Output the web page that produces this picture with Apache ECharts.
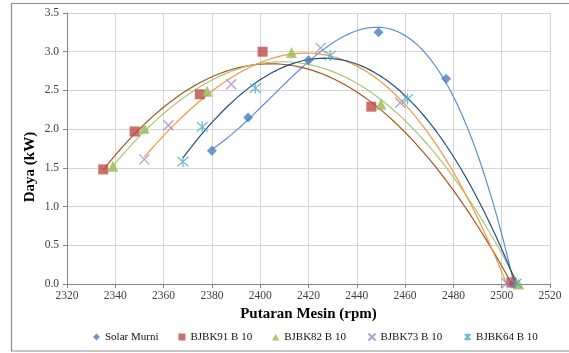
<!DOCTYPE html>
<html>
<head>
<meta charset="utf-8">
<script src="https://cdn.jsdelivr.net/npm/echarts@6/dist/echarts.min.js"></script>
<style>
  html, body { margin: 0; padding: 0; background: #fff; }
  #chart { width: 569px; height: 353px; }
</style>
</head>
<body>
<div id="chart"></div>
<script>
// data (rpm, kW)
var solarMurni = [[2380, 1.72], [2395, 2.15], [2420, 2.89], [2449, 3.25], [2477, 2.65], [2505, 0.0]];
var bjbk91 = [[2335, 1.48], [2348, 1.97], [2375, 2.45], [2401, 3.0], [2446, 2.29], [2504, 0.02]];
var bjbk82 = [[2339, 1.52], [2352, 2.01], [2378, 2.49], [2413, 2.99], [2450, 2.32], [2507, 0.0]];
var bjbk73 = [[2352, 1.61], [2362, 2.05], [2388, 2.58], [2425, 3.05], [2458, 2.34], [2502, 0.01]];
var bjbk64 = [[2368, 1.58], [2376, 2.03], [2398, 2.53], [2429, 2.95], [2461, 2.39], [2506, 0.01]];

var seriesNames = ['Solar Murni', 'BJBK91 B 10', 'BJBK82 B 10', 'BJBK73 B 10', 'BJBK64 B 10'];

// polynomial trendline (least squares), like the spreadsheet one
function polyFit(pts, order) {
    var n = pts.length, mx = 0, m = order + 1;
    pts.forEach(function (p) { mx += p[0]; });
    mx /= n;
    var sc = 50;
    var A = [];
    for (var i = 0; i < m; i++) { A.push([]); for (var j = 0; j <= m; j++) A[i].push(0); }
    pts.forEach(function (p) {
        var x = (p[0] - mx) / sc, y = p[1];
        for (var i = 0; i < m; i++) {
            for (var j = 0; j < m; j++) A[i][j] += Math.pow(x, i + j);
            A[i][m] += y * Math.pow(x, i);
        }
    });
    for (var i = 0; i < m; i++) {
        for (var j = i + 1; j < m; j++) {
            var f = A[j][i] / A[i][i];
            for (var k = i; k <= m; k++) A[j][k] -= f * A[i][k];
        }
    }
    var c = [];
    for (var i = m - 1; i >= 0; i--) {
        var v = A[i][m];
        for (var k = i + 1; k < m; k++) v -= A[i][k] * c[k];
        c[i] = v / A[i][i];
    }
    var x0 = pts[0][0], x1 = pts[n - 1][0], out = [];
    for (var i = 0; i <= 80; i++) {
        var x = x0 + (x1 - x0) * i / 80, d = (x - mx) / sc, y = 0;
        for (var k = 0; k < m; k++) y += c[k] * Math.pow(d, k);
        out.push([x, y]);
    }
    return out;
}

var crossPath = 'path://M0,0L10,10M10,0L0,10';
var starPath = 'path://M0,0L10,10M10,0L0,10M5,-1L5,11';

var myChart = echarts.init(document.getElementById('chart'));
var serif = 'Liberation Serif';

function trend(data, color) {
    return {
        type: 'line', data: polyFit(data, 3), showSymbol: false,
        silent: true, z: 1,
        lineStyle: { color: color, width: 1.2 }
    };
}

var option = {
    animation: false,
    textStyle: { fontFamily: serif },
    grid: { left: 67, right: 19, top: 13, bottom: 69 },
    graphic: [{
        type: 'rect',
        shape: { x: 11.5, y: 3.5, width: 580, height: 347.5 },
        style: { fill: 'none', stroke: '#8c8c8c', lineWidth: 1.2 },
        silent: true
    }, {
        type: 'text', x: 30, y: 167, rotation: Math.PI / 2,
        style: { text: 'Daya (kW)', font: 'bold 15px "Liberation Serif"', fill: '#000',
                 align: 'center', verticalAlign: 'middle' },
        silent: true
    }],
    legend: {
        bottom: 5, left: 88,
        itemWidth: 7, itemHeight: 7, itemGap: 20,
        textStyle: { fontFamily: serif, fontSize: 11, color: '#111' },
        data: seriesNames
    },
    xAxis: {
        type: 'value', min: 2320, max: 2520, interval: 20,
        name: 'Putaran Mesin (rpm)', nameLocation: 'middle', nameGap: 23,
        nameTextStyle: { fontFamily: serif, fontWeight: 'bold', fontSize: 15, color: '#000' },
        axisLine: { lineStyle: { color: '#868686' } },
        axisTick: { show: true, length: 4, lineStyle: { color: '#868686' } },
        axisLabel: { fontFamily: serif, fontSize: 11.5, color: '#404040', margin: 6,
            formatter: function (v) { return String(v); } },
        splitLine: { lineStyle: { color: '#d4d4d4' } }
    },
    yAxis: {
        type: 'value', min: 0, max: 3.5, interval: 0.5,
        axisLine: { show: true, lineStyle: { color: '#868686' } },
        axisTick: { show: true, length: 4, lineStyle: { color: '#868686' } },
        axisLabel: { fontFamily: serif, fontSize: 11.5, color: '#404040', margin: 8,
            formatter: function (v) { return v.toFixed(1); } },
        splitLine: { lineStyle: { color: '#d4d4d4' } }
    },
    series: [
        trend(solarMurni, '#5b8fd4'),
        trend(bjbk91, '#a5561f'),
        trend(bjbk82, '#a8c878'),
        trend(bjbk73, '#f79646'),
        trend(bjbk64, '#254e80'),
        { name: seriesNames[0], type: 'scatter', data: solarMurni, symbol: 'diamond', symbolSize: 10, z: 3,
          itemStyle: { color: '#4a7ebb' } },
        { name: seriesNames[1], type: 'scatter', data: bjbk91, symbol: 'rect', symbolSize: 10, z: 3,
          itemStyle: { color: '#be4b48' } },
        { name: seriesNames[2], type: 'scatter', data: bjbk82, symbol: 'triangle', symbolSize: 11, z: 3,
          itemStyle: { color: '#98b954' } },
        { name: seriesNames[3], type: 'scatter', data: bjbk73, symbol: crossPath, symbolSize: 10, z: 3,
          itemStyle: { color: 'none', borderColor: '#9d88bd', borderWidth: 1.3 } },
        { name: seriesNames[4], type: 'scatter', data: bjbk64, symbol: starPath, symbolSize: 11, z: 3,
          itemStyle: { color: 'none', borderColor: '#4bacc6', borderWidth: 1.3 } }
    ]
};
myChart.setOption(option);
</script>
</body>
</html>
